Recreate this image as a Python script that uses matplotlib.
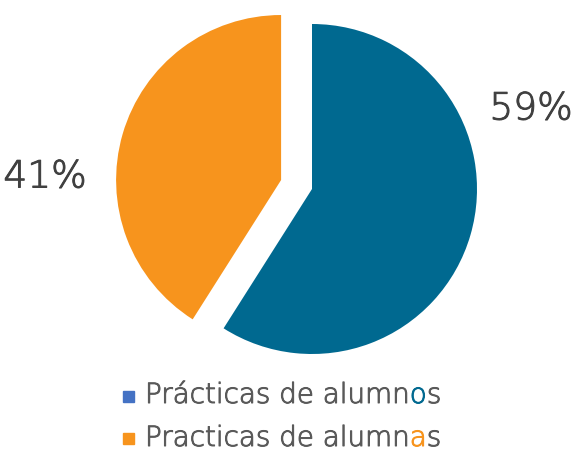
import matplotlib
matplotlib.use("Agg")
import matplotlib.pyplot as plt
import matplotlib.patheffects as pe
from matplotlib.patches import Rectangle

# data
labels = ["Prácticas de alumnos", "Practicas de alumnas"]
shares = [59, 41]
pct_text = ["59%", "41%"]
slice_colors = ["#006990", "#F7941D"]
marker_colors = ["#4472C4", "#F7941D"]
explode = [0, 0.195]

plt.rcParams['font.family'] = ['DejaVu Sans']
gray = "#595959"


def thin(color):
    # extra-light face thickened a touch to get a light weight
    return [pe.withStroke(linewidth=0.7, foreground=color)]


fig = plt.figure(figsize=(5.76, 4.52), dpi=100)
ax = fig.add_axes([0, 0, 1, 1])

ax.pie(shares, colors=slice_colors, explode=explode, startangle=90,
       counterclock=False, radius=1.0, wedgeprops=dict(linewidth=0))

# 1 data unit = 165 px, pie centre at (312, 190) px from top-left
ax.set_xlim(-312 / 165, (576 - 312) / 165)
ax.set_ylim(-(452 - 190) / 165, 190 / 165)
ax.set_aspect('equal')
ax.axis('off')

# percentage labels
dark = "#404040"
ax.text((531 - 312) / 165, (190 - 110) / 165, pct_text[0], fontsize=27,
        color=dark, ha='center', va='center', fontweight=200,
        path_effects=thin(dark))
ax.text((45 - 312) / 165, (190 - 178) / 165, pct_text[1], fontsize=27,
        color=dark, ha='center', va='center', fontweight=200,
        path_effects=thin(dark))

# legend drawn by hand so the gendered letter can be coloured
baselines = [404, 447]
marker_mid = [397, 439]
for i, lab in enumerate(labels):
    fig.patches.append(Rectangle((123 / 576, 1 - (marker_mid[i] + 5.5) / 452),
                                 11 / 576, 11 / 452, transform=fig.transFigure,
                                 color=marker_colors[i]))
    t1 = fig.text(145 / 576, 1 - baselines[i] / 452, lab[:-2], fontsize=20,
                  color=gray, va='baseline', ha='left', fontweight=200,
                  path_effects=thin(gray))
    a1 = ax.annotate(lab[-2], xy=(1, 0), xycoords=t1, fontsize=20,
                     color=slice_colors[i], va='bottom', ha='left',
                     fontweight=200, annotation_clip=False,
                     path_effects=thin(slice_colors[i]))
    ax.annotate(lab[-1], xy=(1, 0), xycoords=a1, fontsize=20, color=gray,
                va='bottom', ha='left', fontweight=200, annotation_clip=False,
                path_effects=thin(gray))

fig.savefig("out.png", dpi=100)
